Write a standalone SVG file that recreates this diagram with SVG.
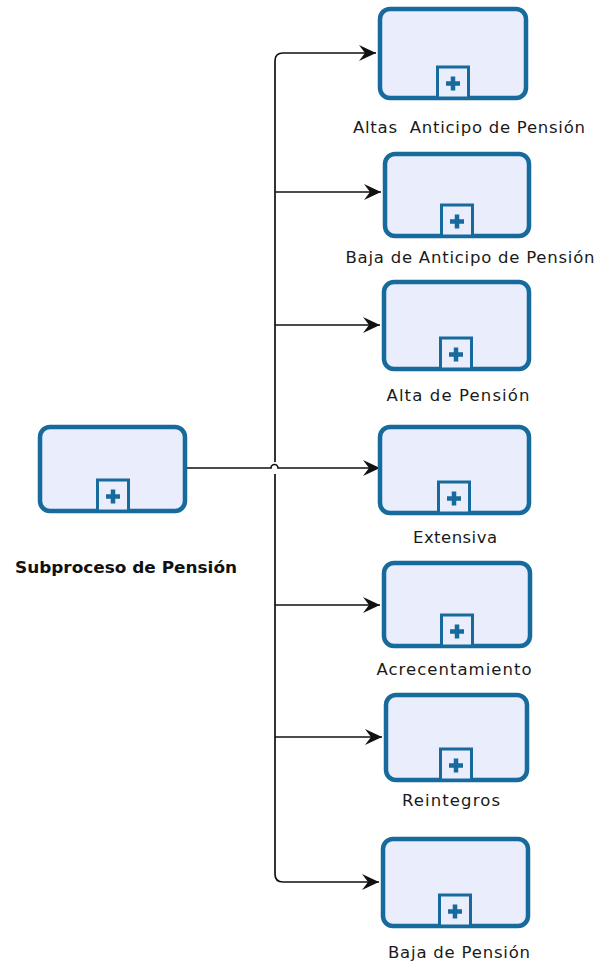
<svg xmlns="http://www.w3.org/2000/svg" width="600" height="966" viewBox="0 0 600 966">
  <style>
    .box { fill: #e9edfc; stroke: #166a9c; stroke-width: 4.5; }
    .mk { fill: #e9edfc; stroke: #166a9c; stroke-width: 3; }
    .plus { stroke: #166a9c; stroke-width: 4.5; }
    .lbl { font-family: "DejaVu Sans", "Liberation Sans", sans-serif; font-size: 16.5px; fill: #1a1a1a; text-anchor: middle; }
    .title { font-family: "DejaVu Sans", "Liberation Sans", sans-serif; font-size: 16px; font-weight: bold; fill: #111; text-anchor: middle; }
    .flow { fill: none; stroke: #111; stroke-width: 1.7; }
  </style>
  <defs>
    <marker id="arrow" markerUnits="userSpaceOnUse" markerWidth="18" markerHeight="16" refX="17" refY="8" orient="auto">
      <path d="M0,0 L17,8 L0,16 L6,8 Z" fill="#111"/>
    </marker>
    <!-- collapsed sub-process marker: square with a plus, bottom-centred at (0,0) -->
    <g id="subMarker">
      <rect class="mk" x="-15.5" y="-31" width="31" height="31"/>
      <path class="plus" d="M-7,-14.5 H7 M0,-21.5 V-7.5"/>
    </g>
  </defs>

  <!-- connectors -->
  <g id="connectors">
    <path class="flow" d="M187,468 H271 A3.5,3.5 0 0 1 278,468 H380" marker-end="url(#arrow)"/>
    <path class="flow" d="M275,462 V61 Q275,53 283,53 H376" marker-end="url(#arrow)"/>
    <path class="flow" d="M275,474 V874 Q275,882 283,882 H379" marker-end="url(#arrow)"/>
    <path class="flow" d="M275,192 H381" marker-end="url(#arrow)"/>
    <path class="flow" d="M275,325 H380" marker-end="url(#arrow)"/>
    <path class="flow" d="M275,605 H380" marker-end="url(#arrow)"/>
    <path class="flow" d="M275,737 H382" marker-end="url(#arrow)"/>
  </g>

  <!-- source sub-process -->
  <g id="subproceso-pension">
    <rect class="box" x="40" y="427" width="145" height="84" rx="10"/>
    <use href="#subMarker" x="113" y="511"/>
    <text class="title" x="126" y="573" textLength="222" lengthAdjust="spacingAndGlyphs">Subproceso de Pensión</text>
  </g>

  <g id="altas-anticipo">
    <rect class="box" x="380" y="9" width="146" height="89" rx="10"/>
    <use href="#subMarker" x="453" y="98"/>
    <text class="lbl" x="469" y="133" textLength="232" lengthAdjust="spacing" xml:space="preserve">Altas  Anticipo de Pensión</text>
  </g>

  <g id="baja-anticipo">
    <rect class="box" x="385" y="154" width="144" height="82" rx="10"/>
    <use href="#subMarker" x="457" y="236"/>
    <text class="lbl" x="470" y="263" textLength="249" lengthAdjust="spacing">Baja de Anticipo de Pensión</text>
  </g>

  <g id="alta-pension">
    <rect class="box" x="384" y="282" width="145" height="87" rx="10"/>
    <use href="#subMarker" x="456" y="369"/>
    <text class="lbl" x="458" y="401" textLength="143" lengthAdjust="spacing">Alta de Pensión</text>
  </g>

  <g id="extensiva">
    <rect class="box" x="380" y="427" width="149" height="86" rx="10"/>
    <use href="#subMarker" x="454" y="513"/>
    <text class="lbl" x="455" y="543" textLength="84" lengthAdjust="spacing">Extensiva</text>
  </g>

  <g id="acrecentamiento">
    <rect class="box" x="384" y="563" width="146" height="83" rx="10"/>
    <use href="#subMarker" x="457" y="646"/>
    <text class="lbl" x="454" y="675" textLength="155" lengthAdjust="spacing">Acrecentamiento</text>
  </g>

  <g id="reintegros">
    <rect class="box" x="386" y="695" width="141" height="85" rx="10"/>
    <use href="#subMarker" x="456" y="780"/>
    <text class="lbl" x="451" y="806" textLength="98" lengthAdjust="spacing">Reintegros</text>
  </g>

  <g id="baja-pension">
    <rect class="box" x="383" y="839" width="145" height="87" rx="10"/>
    <use href="#subMarker" x="455" y="926"/>
    <text class="lbl" x="459" y="958" textLength="142" lengthAdjust="spacing">Baja de Pensión</text>
  </g>
</svg>
